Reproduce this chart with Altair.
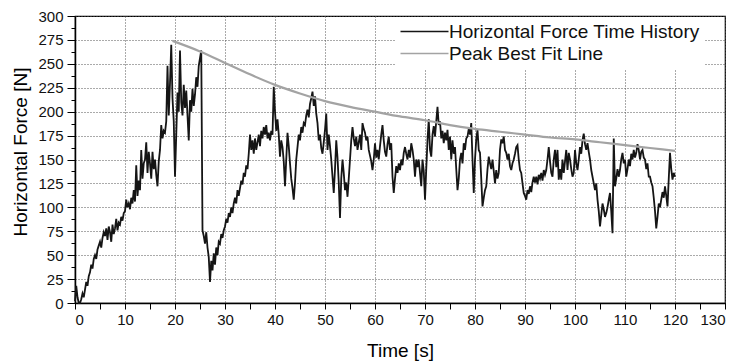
import altair as alt
import pandas as pd

force_00_10 = [2, 18, 6, 0, 0, 4, 10, 6, 14, 22, 18, 28, 32, 40, 36, 46,
               50, 46, 56, 60, 64, 58, 68, 74, 70, 78, 66, 80, 74, 64, 82, 72,
               78, 88, 76, 84, 82, 90, 86, 94]
force_10_20 = [96, 108, 100, 104, 98, 110, 104, 118, 106, 144, 112, 128,
               118, 160, 130, 146, 150, 168, 136, 158, 146, 130, 158, 140,
               150, 134, 122, 148, 160, 186, 172, 180, 178, 190, 248, 196,
               230, 270, 214, 190]
force_20_30 = [132, 176, 220, 200, 264, 210, 196, 228, 204, 222, 196, 170,
               212, 200, 224, 206, 218, 236, 226, 248, 256, 264, 76, 70,
               62, 74, 58, 48, 22, 44, 34, 52, 40, 58, 50, 64, 62, 72, 68, 76]
force_30_40 = [80, 88, 84, 94, 90, 100, 94, 104, 110, 104, 118, 112,
               120, 128, 124, 136, 132, 144, 140, 156, 176, 160, 170, 156,
               172, 160, 168, 176, 164, 180, 172, 184, 176, 186, 172, 178,
               170, 180, 176, 226]
force_40_50 = [200, 180, 192, 176, 153, 170, 163, 148, 122, 150, 178, 164,
               146, 130, 120, 108, 126, 150, 163, 176, 170, 184, 178, 188,
               186, 196, 202, 194, 208, 214, 221, 206, 216, 198, 188, 170,
               176, 162, 156, 168]
force_50_60 = [181, 198, 160, 176, 164, 150, 132, 115, 140, 170, 152, 126,
               89, 130, 150, 136, 118, 126, 111, 130, 150, 170, 184, 172,
               164, 174, 160, 168, 176, 160, 188, 182, 178, 170, 174, 160,
               154, 148, 139, 150]
force_60_70 = [167, 152, 160, 150, 164, 176, 186, 170, 158, 153, 166, 174,
               160, 167, 132, 115, 130, 143, 136, 146, 139, 150, 144, 157,
               163, 156, 150, 160, 152, 167, 160, 150, 132, 150, 142, 150,
               136, 122, 150, 138]
force_70_80 = [108, 140, 170, 192, 160, 153, 176, 185, 174, 190, 205, 186,
               190, 172, 180, 167, 178, 170, 181, 160, 174, 150, 170, 156,
               163, 140, 118, 130, 150, 157, 146, 167, 160, 172, 174, 182,
               176, 188, 150, 115]
force_80_90 = [150, 171, 181, 160, 157, 130, 101, 110, 118, 122, 140, 153,
               146, 140, 150, 138, 125, 139, 130, 136, 160, 171, 167, 174,
               160, 157, 150, 156, 143, 139, 146, 150, 156, 163, 165, 150,
               139, 136, 125, 115]
force_90_100 = [112, 108, 118, 114, 122, 116, 126, 132, 126, 132, 124, 134,
                130, 136, 128, 139, 134, 139, 150, 163, 148, 136, 132, 150,
                160, 142, 160, 129, 140, 129, 150, 136, 148, 160, 139, 157,
                150, 140, 132, 136]
force_100_110 = [160, 146, 139, 150, 163, 156, 170, 177, 166, 160, 167, 158,
                 150, 139, 132, 125, 118, 125, 108, 96, 80, 92, 104, 98,
                 90, 94, 100, 108, 115, 96, 73, 172, 122, 130, 140, 132,
                 139, 150, 157, 146]
force_110_120 = [150, 132, 140, 150, 143, 156, 150, 160, 152, 157, 166, 160,
                 150, 158, 160, 152, 150, 140, 146, 132, 132, 126, 122, 110,
                 96, 78, 90, 104, 100, 108, 116, 110, 122, 112, 101, 130,
                 157, 140, 129, 136, 132]

force = (force_00_10 + force_10_20 + force_20_30 + force_30_40 + force_40_50
         + force_50_60 + force_60_70 + force_70_80 + force_80_90 + force_90_100
         + force_100_110 + force_110_120)
time_step = 0.25
times = [i * time_step for i in range(len(force))]

# Peak best fit line
fit_time = [19.5, 25, 30, 35, 40, 45, 50, 55, 60, 65, 70, 75, 80, 85, 90, 95,
            100, 105, 110, 115, 120]
fit_force = [274, 263, 251, 239, 228, 219, 211, 205, 200, 195, 191, 186, 182,
             179, 176, 173, 171, 168, 165, 162, 159]

S1 = "Horizontal Force Time History"
S2 = "Peak Best Fit Line"

df_force = pd.DataFrame({"t": times, "F": force, "series": S1})
df_fit = pd.DataFrame({"t": fit_time, "F": fit_force, "series": S2})

x_ticks = list(range(0, 131, 5))
y_ticks = [i * 12.5 for i in range(25)]

FONT = "Liberation Sans"

x_enc = alt.X(
    "t:Q",
    scale=alt.Scale(domain=[0, 130], nice=False),
    axis=alt.Axis(
        values=x_ticks,
        labelExpr="datum.value % 10 === 0 ? datum.label : ''",
        labelOverlap=False,
        title="Time [s]",
        titleFontSize=19, titleFontWeight="normal", titleFont=FONT,
        titleX=325, titleY=47, titleBaseline="middle",
        labelFontSize=15, labelFont=FONT, labelColor="#111",
        labelPadding=3,
        ticks=True, tickSize=6, tickWidth=1,
        gridOpacity={"condition": {"test": "datum.value % 10 !== 0", "value": 0}, "value": 1},
        grid=True, gridColor="#555", gridDash=[1, 2], gridWidth=1,
        domainColor="#000", domainWidth=1.5, tickColor="#000",
    ),
)
y_enc = alt.Y(
    "F:Q",
    scale=alt.Scale(domain=[0, 300], nice=False),
    axis=alt.Axis(
        values=y_ticks,
        labelExpr="datum.value % 25 === 0 ? datum.label : ''",
        labelOverlap=False,
        title="Horizontal Force [N]",
        titleFontSize=19, titleFontWeight="normal", titleFont=FONT,
        titleX=-55, titleY=135.5, titleBaseline="middle", titleAlign="center",
        labelFontSize=15, labelFont=FONT, labelColor="#111",
        labelPadding=4,
        ticks=True, tickWidth=1,
        tickSize={"condition": {"test": "datum.value % 25 !== 0", "value": 4}, "value": 8},
        gridOpacity={"condition": {"test": "datum.value % 25 !== 0", "value": 0}, "value": 1},
        grid=True, gridColor="#555", gridDash=[1, 2], gridWidth=1,
        domainColor="#000", domainWidth=1.5, tickColor="#000",
    ),
)

color = alt.Color(
    "series:N",
    scale=alt.Scale(domain=[S1, S2], range=["#151515", "#a3a3a3"]),
    legend=alt.Legend(
        title=None, orient="none", legendX=320, legendY=1,
        fillColor="white", padding=5,
        symbolType="M-3,0H3", symbolSize=256, symbolStrokeWidth=1.6,
        symbolOffset=15,
        labelFontSize=19, labelFont=FONT, labelColor="#111",
        labelLimit=400, labelOffset=15, rowPadding=2,
    ),
)

force_line = alt.Chart(df_force).mark_line(strokeWidth=1.8).encode(
    x=x_enc, y=y_enc, color=color
)
fit_line = alt.Chart(df_fit).mark_line(strokeWidth=2.2, interpolate="monotone").encode(
    x=x_enc, y=y_enc, color=color
)

chart = alt.layer(force_line, fit_line).properties(
    width=650, height=287,
    autosize=alt.AutoSizeParams(type="none"),
    padding={"left": 75, "top": 16, "right": 15, "bottom": 61},
).configure_view(stroke="#000", strokeWidth=1.2, fill="white")

chart.save("out.html", embed_options={"renderer": "svg", "actions": False})
